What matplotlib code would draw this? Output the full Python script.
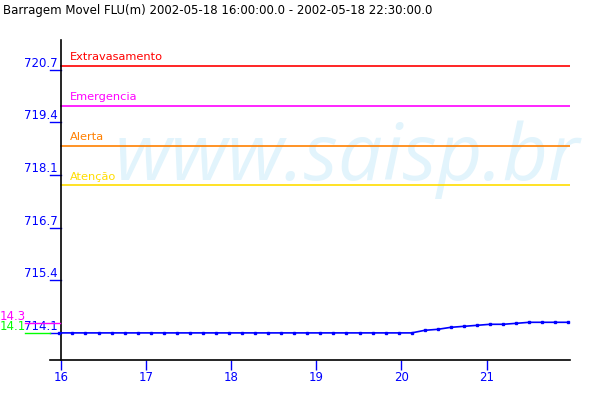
import numpy as np
import matplotlib
matplotlib.use("Agg")
import matplotlib.pyplot as plt
from matplotlib.lines import Line2D

# series (hours of day, level in m)
times = np.linspace(15.98, 21.96, 40)
levels = [714.1] * 28 + [714.165, 714.19, 714.24, 714.265, 714.29, 714.316,
                         714.316, 714.34, 714.366, 714.366, 714.366, 714.366]

# alert levels
limit_names = ["Extravasamento", "Emergencia", "Alerta", "Atenção"]
limit_values = [720.8, 719.8, 718.8, 717.8]
limit_colors = ["#ff0000", "#ff00ff", "#ff8000", "#ffdd00"]

yticks = [714.1, 715.42, 716.74, 718.06, 719.38, 720.7]
ytick_labels = ["714.1", "715.4", "716.7", "718.1", "719.4", "720.7"]
xticks = [16, 17, 18, 19, 20, 21]
xtick_labels = ["16", "17", "18", "19", "20", "21"]

title = "Barragem Movel FLU(m) 2002-05-18 16:00:00.0 - 2002-05-18 22:30:00.0"
max_label, min_label = "14.3", "14.1"

blue = "#0000ff"
fig = plt.figure(figsize=(6, 4), dpi=100)
ax = fig.add_axes([50 / 600, 40 / 400, 520 / 600, 320 / 400])
ax.set_xlim(15.87, 21.98)
ax.set_ylim(713.42, 721.45)

for s in ["top", "right"]:
    ax.spines[s].set_visible(False)
ax.spines["left"].set_position(("data", 16))
ax.spines["left"].set_linewidth(1.2)
ax.spines["bottom"].set_linewidth(1.2)

# watermark
ax.text(0.125, 0.5625, "www.saisp.br", transform=ax.transAxes, fontsize=57,
        style="italic", family="Open Sans", color="#e2f4fc", zorder=0,
        va="baseline", ha="left")

for name, val, c in zip(limit_names, limit_values, limit_colors):
    ax.axhline(val, xmin=(16 - 15.87) / (21.98 - 15.87), color=c, lw=1.2, zorder=2)
    ax.text(16.1, val + 0.09, name, color=c, fontsize=8.2, va="bottom", zorder=3)

ax.plot(times, levels, color=blue, lw=1.2, zorder=4, clip_on=False)
ax.plot(times, levels, ls="none", marker="s", ms=2, color=blue, zorder=5,
        clip_on=False)

# y ticks: label sits on the tick
ytrans = ax.get_yaxis_transform()
for v, lab in zip(yticks, ytick_labels):
    ax.text(0.0155, v, lab, transform=ytrans, color=blue,
            fontsize=8.5, ha="right", va="bottom")
    ax.plot([0.0, 0.021], [v, v], transform=ytrans,
            color=blue, lw=1, clip_on=False)
ax.set_yticks([])

ax.set_xticks(xticks)
ax.set_xticklabels(xtick_labels)
ax.tick_params(axis="x", colors=blue, length=7, width=1, labelsize=8.5, pad=1)
ax.spines["bottom"].set_color("black")

# min / max markers on the left
fig.text(0.0, 1 - 323 / 400, max_label, color="#ff00ff", fontsize=8.5, va="bottom")
fig.text(0.0, 1 - 333 / 400, min_label, color="#00ff00", fontsize=8.5, va="bottom")
fig.add_artist(Line2D([25 / 600, 60 / 600], [1 - 323 / 400] * 2, color="#ff00ff", lw=1))
fig.add_artist(Line2D([25 / 600, 50 / 600], [1 - 333 / 400] * 2, color="#00ff00", lw=1))

fig.text(3 / 600, 1 - 4 / 400, title, fontsize=8.5, va="top", ha="left")

fig.savefig("out.png", dpi=100)
